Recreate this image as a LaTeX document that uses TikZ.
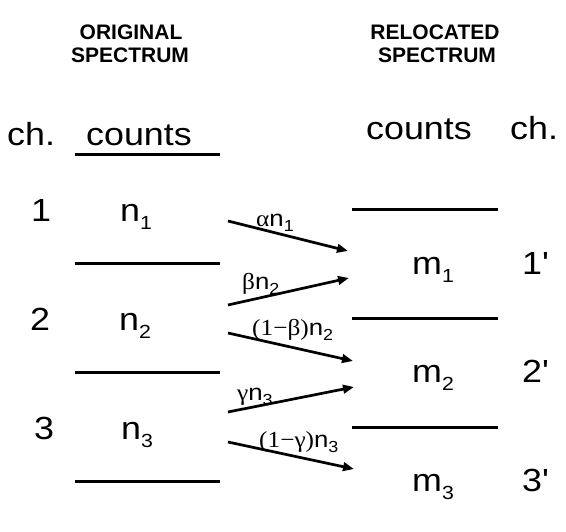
\documentclass[tikz,border=0pt]{standalone}
\usepackage{fontspec}
\setmainfont{Liberation Sans}[FakeStretch=1.12]
\newfontfamily\hdfont{Liberation Sans}
\newfontfamily\grfont{Liberation Serif}[FakeStretch=1.1]
\usetikzlibrary{arrows.meta}
\newcommand\bigsub[1]{\raisebox{-8pt}{\fontsize{19}{19}\selectfont #1}}
\newcommand\lsub[1]{\raisebox{-5pt}{\fontsize{16}{16}\selectfont #1}}
\newcommand\prm{\textquotesingle}
\begin{document}
\begin{tikzpicture}[x=1pt,y=-1pt,
  big/.style={inner sep=0pt,anchor=base west,font=\fontsize{32}{38}\selectfont},
  bigc/.style={inner sep=0pt,anchor=base,font=\fontsize{32}{38}\selectfont},
  hd/.style={inner sep=0pt,anchor=base,font=\hdfont\bfseries\fontsize{21}{25}\selectfont},
  lbl/.style={inner sep=0pt,anchor=base west,font=\fontsize{23}{27}\selectfont},
  bar/.style={line width=3pt},
  flow/.style={line width=2.7pt,-{Triangle[length=11pt,width=8.5pt]}}]
\useasboundingbox (0,0) rectangle (566,532);
% headers
\node[hd] (ho1) at (131,40) {ORIGINAL};
\node[hd] (ho2) at (130,63) {SPECTRUM};
\node[hd] (hr1) at (435,40) {RELOCATED};
\node[hd] (hr2) at (437,63) {SPECTRUM};
% column titles
\node[big] (chl) at (7,146) {ch.};
\node[big] (cl) at (86,146) {counts};
\node[big] (cr) at (366,140) {counts};
\node[big] (chr) at (510,140) {ch.};
% left bars
\foreach \y in {155,264,373,481} \draw[bar] (75,\y) -- (220,\y);
% right bars
\foreach \y in {210,319,427} \draw[bar] (352,\y) -- (498,\y);
% left rows
\node[bigc] (c1) at (41,222) {1};
\node[big] (n1) at (120,222) {n\bigsub{1}};
\node[bigc] (c2) at (40,331) {2};
\node[big] (n2) at (119,331) {n\bigsub{2}};
\node[bigc] (c3) at (44,439) {3};
\node[big] (n3) at (121,439) {n\bigsub{3}};
% right rows
\node[big] (m1) at (412,275) {m\bigsub{1}};
\node[big] (d1) at (522,275) {1\prm};
\node[big] (m2) at (412,383) {m\bigsub{2}};
\node[big] (d2) at (522,383) {2\prm};
\node[big] (m3) at (412,491) {m\bigsub{3}};
\node[big] (d3) at (522,491) {3\prm};
% arrows
\coordinate (a1s) at (228,221); \coordinate (a1e) at (348,251);
\coordinate (a2s) at (228,305); \coordinate (a2e) at (349,278);
\coordinate (a3s) at (228,333); \coordinate (a3e) at (353,361);
\coordinate (a4s) at (228,412); \coordinate (a4e) at (354,387);
\coordinate (a5s) at (228,442); \coordinate (a5e) at (354,469);
\draw[flow] (a1s) -- (a1e);
\draw[flow] (a2s) -- (a2e);
\draw[flow] (a3s) -- (a3e);
\draw[flow] (a4s) -- (a4e);
\draw[flow] (a5s) -- (a5e);
% labels
\node[lbl] (l1) at (256,227) {{\grfont α}n\lsub{1}};
\node[lbl] (l2) at (242,290) {{\grfont β}n\lsub{2}};
\node[lbl] (l3) at (252,336) {{\grfont (1−β)}n\lsub{2}};
\node[lbl] (l4) at (237,401) {{\grfont γ}n\lsub{3}};
\node[lbl] (l5) at (259,447) {{\grfont (1−γ)}n\lsub{3}};
\end{tikzpicture}
\end{document}
